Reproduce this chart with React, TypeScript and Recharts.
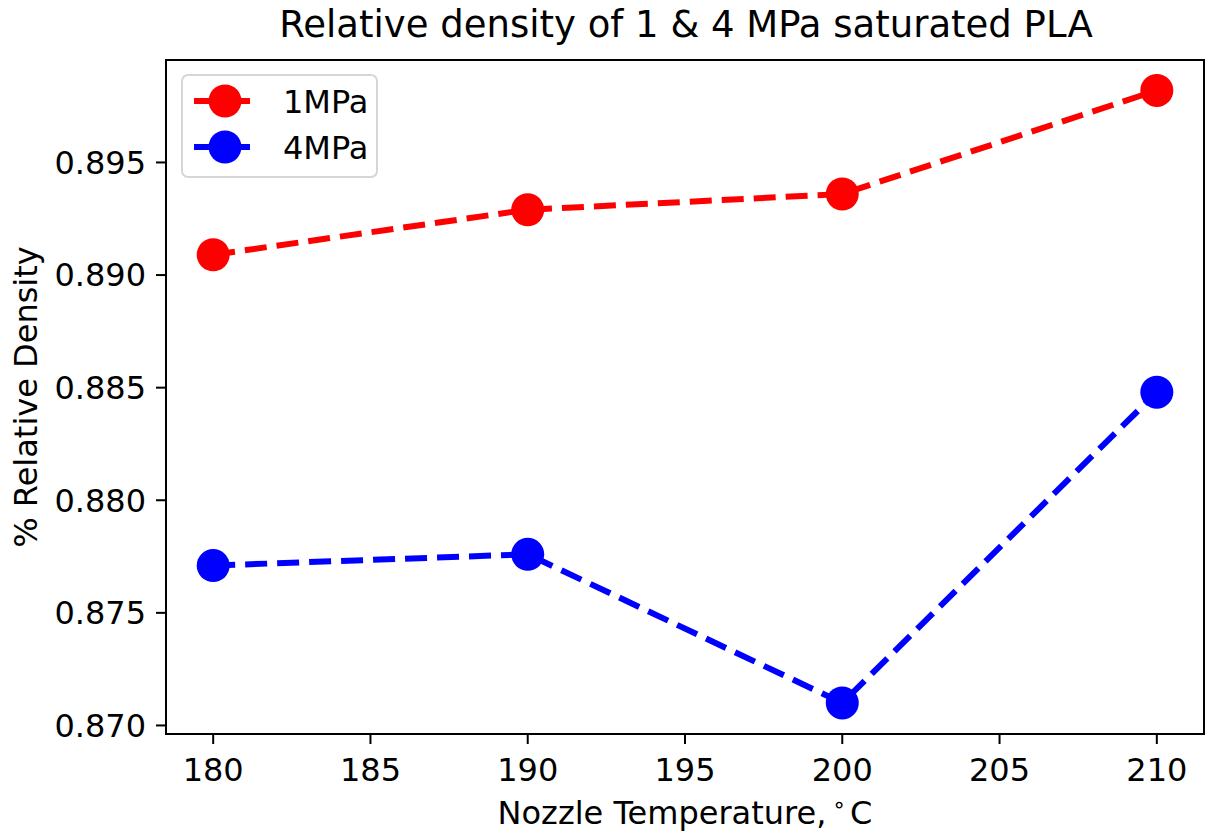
import React from 'react';
import { LineChart, Line, XAxis, YAxis, Label } from 'recharts';

const temperatures = [180, 190, 200, 210];
const density1MPa = [0.8909, 0.8929, 0.8936, 0.8982];
const density4MPa = [0.8771, 0.8776, 0.8710, 0.8848];
const xTicks = [180, 185, 190, 195, 200, 205, 210];
const yTicks = [0.87, 0.875, 0.88, 0.885, 0.89, 0.895];

const data = temperatures.map((t, i) => ({ t, a: density1MPa[i], b: density4MPa[i] }));

const FONT = 'DejaVu Sans';
const FS = 32;

const Overlay = () => (
  <svg width={1206} height={834} style={{ position: 'absolute', left: 0, top: 0, pointerEvents: 'none' }}>
    <text x={686} y={37} textAnchor="middle" fontSize={37} fontFamily={FONT} fill="#000">
      Relative density of 1 &amp; 4 MPa saturated PLA
    </text>
    <rect x={166} y={60} width={1038} height={674} fill="none" stroke="#000" strokeWidth={2} />
    <rect x={182} y={75} width={195} height={102} rx={6} ry={6} fill="rgba(255,255,255,0.8)" stroke="#d6d6d6" strokeWidth={2} />
    <line x1={194} x2={250} y1={101} y2={101} stroke="#ff0000" strokeWidth={6} />
    <circle cx={225} cy={101} r={16.5} fill="#ff0000" />
    <text x={283} y={113} fontSize={FS} fontFamily={FONT} fill="#000">1MPa</text>
    <line x1={194} x2={250} y1={147} y2={147} stroke="#0000ff" strokeWidth={6} />
    <circle cx={225} cy={147} r={16.5} fill="#0000ff" />
    <text x={283} y={159} fontSize={FS} fontFamily={FONT} fill="#000">4MPa</text>
  </svg>
);

const Dot = (color: string) => (props: any) => {
  const { cx, cy, index } = props;
  return <circle key={index} cx={cx} cy={cy} r={16.5} fill={color} />;
};

export default function App() {
  return (
    <div style={{ position: 'absolute', left: 0, top: 0, width: 1206, height: 834, background: '#fff' }}>
      <LineChart width={1206} height={834} data={data} margin={{ top: 60, right: 2, bottom: 0, left: 0 }}>
        <XAxis
          dataKey="t"
          type="number"
          domain={[178.5, 211.5]}
          ticks={xTicks}
          allowDataOverflow
          height={100}
          tickSize={10}
          tickMargin={14}
          stroke="#000"
          strokeWidth={2}
          tick={{ fill: '#000', fontSize: FS, fontFamily: FONT }}
        >
          <Label
            content={(p: any) => {
              const vb = p.viewBox;
              return (
                <text x={vb.x + vb.width / 2} y={824} textAnchor="middle" fontSize={FS} fontFamily={FONT} fill="#000">
                  Nozzle Temperature,
                  <tspan dx={6} dy={-12} fontSize={22}>∘</tspan>
                  <tspan dx={4} dy={12}>C</tspan>
                </text>
              );
            }}
          />
        </XAxis>
        <YAxis
          type="number"
          domain={[0.86962, 0.89955]}
          ticks={yTicks}
          allowDataOverflow
          width={166}
          tickSize={10}
          tickMargin={10}
          stroke="#000"
          strokeWidth={2}
          tickFormatter={(v: number) => v.toFixed(3)}
          tick={{ fill: '#000', fontSize: FS, fontFamily: FONT }}
        >
          <Label
            content={(p: any) => {
              const vb = p.viewBox;
              const cy = vb.y + vb.height / 2;
              return (
                <text
                  x={37}
                  y={cy}
                  transform={`rotate(-90, 37, ${cy})`}
                  textAnchor="middle"
                  fontSize={FS}
                  fontFamily={FONT}
                  fill="#000"
                >
                  % Relative Density
                </text>
              );
            }}
          />
        </YAxis>
        <Line
          dataKey="a"
          stroke="#ff0000"
          strokeWidth={6}
          strokeDasharray="22 10"
          dot={Dot('#ff0000')}
          activeDot={false}
          isAnimationActive={false}
          type="linear"
        />
        <Line
          dataKey="b"
          stroke="#0000ff"
          strokeWidth={6}
          strokeDasharray="22 10"
          dot={Dot('#0000ff')}
          activeDot={false}
          isAnimationActive={false}
          type="linear"
        />
      </LineChart>
      <Overlay />
    </div>
  );
}
